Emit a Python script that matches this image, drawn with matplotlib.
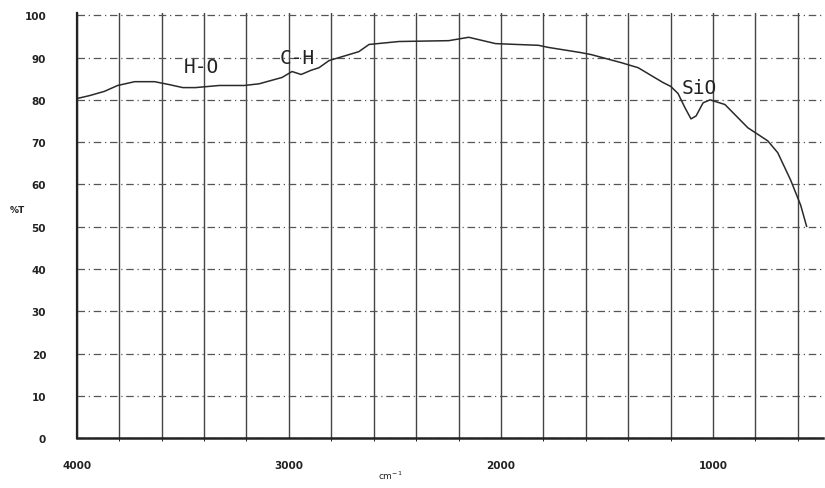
import matplotlib.pyplot as plt
import numpy as np

# IR transmission spectrum
wavenumber = [4000, 3940, 3870, 3807, 3727, 3633, 3563, 3500, 3440, 3328, 3210, 3140,
              3032, 2985, 2942, 2895, 2858, 2810, 2670, 2622, 2481, 2246, 2152, 2025,
              1823, 1776, 1626, 1574, 1433, 1353, 1236, 1200, 1165, 1132, 1104, 1080, 1047,
              1014, 944, 836, 742, 695, 634, 587, 559]
transmission = [80.3, 81.0, 82.0, 83.4, 84.3, 84.3, 83.6, 82.9, 82.9, 83.4, 83.4, 83.8,
                85.3, 86.7, 86.0, 87.0, 87.6, 89.3, 91.4, 93.1, 93.8, 94.0, 94.8, 93.3,
                92.9, 92.4, 91.2, 90.7, 88.8, 87.6, 84.1, 83.2, 81.5, 78.1, 75.5, 76.2, 79.3,
                80.0, 78.9, 73.4, 70.3, 67.5, 61.0, 55.1, 50.1]

labels = ["H-O", "C-H", "SiO"]
label_x = [3410, 2960, 1065]
label_y = [86.7, 88.8, 81.7]

fig = plt.figure(figsize=(8.25, 4.89), dpi=100)
ax = fig.add_axes([0.093, 0.102, 0.905, 0.869])

ax.plot(wavenumber, transmission, color='#2a2a2a', lw=1.1)

for txt, x, y in zip(labels, label_x, label_y):
    ax.text(x, y, txt, fontsize=14, color='#222222', ha='center', va='baseline',
            family='DejaVu Sans Mono')

ax.set_xlim(4000, 480)
ax.set_ylim(0, 100.5)

ax.set_xticks([4000, 3000, 2000, 1000])
ax.set_yticks(np.arange(0, 101, 10))
ax.set_xticks(np.arange(4000, 479, -200), minor=True)
ax.tick_params(axis='both', length=0, labelsize=7.5, colors='#222222')
ax.tick_params(axis='x', pad=16)
ax.tick_params(axis='y', pad=22)
for lab in ax.get_xticklabels() + ax.get_yticklabels():
    lab.set_fontweight('bold')

ax.grid(True, which='both', axis='x', color='#444444', lw=1.0)
ax.grid(True, which='major', axis='y', color='#555555', lw=0.9, ls=(0, (6, 3, 1, 3)))

for s in ['top', 'right']:
    ax.spines[s].set_visible(False)
ax.spines['left'].set_linewidth(1.6)
ax.spines['bottom'].set_linewidth(1.8)
ax.spines['left'].set_color('#222222')
ax.spines['bottom'].set_color('#222222')

fig.text(0.012, 0.565, "%T", fontsize=6.5, fontweight='bold', color='#222222')
fig.text(0.473, 0.018, "cm$^{-1}$", fontsize=6.5, color='#222222', ha='center')

fig.savefig("out.png", dpi=100)
